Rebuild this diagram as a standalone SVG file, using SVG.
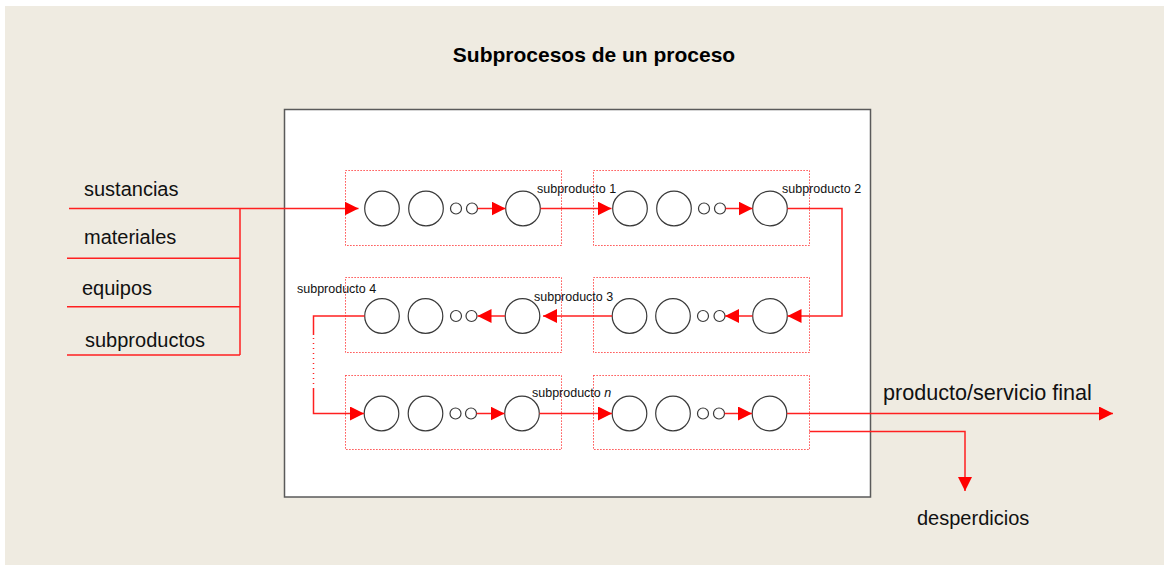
<svg xmlns="http://www.w3.org/2000/svg" width="1164" height="565" viewBox="0 0 1164 565">
<style>
.bg{fill:#EFEBE1}
.frame{fill:#FFFFFF;stroke:#5a5a5a;stroke-width:1.5}
.grp{fill:none;stroke:#FF2020;stroke-width:1;stroke-dasharray:1.2 1.8}
.c{fill:#FFFFFF;stroke:#3a3a3a;stroke-width:1.2}
.ln{fill:none;stroke:#FF2020;stroke-width:1.5}
.dot{fill:none;stroke:#FF2020;stroke-width:1.5;stroke-dasharray:1 4}
.lbl{font-family:"Liberation Sans",Arial,sans-serif;font-size:20px;fill:#111}
.sm{font-family:"Liberation Sans",Arial,sans-serif;font-size:12.5px;fill:#111}
.title{font-family:"Liberation Sans",Arial,sans-serif;font-size:21px;font-weight:bold;fill:#000}
</style>
<defs>
<marker id="ah" markerUnits="userSpaceOnUse" markerWidth="14" markerHeight="14" refX="14" refY="7" orient="auto">
<path d="M0,0 L14,7 L0,14 Z" fill="#FF0000"/>
</marker>
</defs>
<rect x="0" y="0" width="1164" height="565" fill="#FFFFFF"/>
<rect class="bg" x="5" y="6" width="1159" height="559"/>
<text class="title" x="594" y="62" text-anchor="middle">Subprocesos de un proceso</text>
<rect id="proceso" class="frame" x="284.5" y="109.5" width="586" height="387.5"/>

<g id="inputs">
<text class="lbl" x="84" y="196">sustancias</text>
<text class="lbl" x="84" y="244">materiales</text>
<text class="lbl" x="82" y="295">equipos</text>
<text class="lbl" x="85" y="347">subproductos</text>
</g>

<g id="sub1">
<rect class="grp" x="345.5" y="170.5" width="216" height="75"/>
<circle class="c" cx="382" cy="208.5" r="17.3"/>
<circle class="c" cx="426" cy="208.5" r="17.3"/>
<circle class="c" cx="456" cy="208.5" r="5.5"/>
<circle class="c" cx="472" cy="208.5" r="5.5"/>
<circle class="c" cx="523" cy="208.5" r="17.3"/>
</g>
<g id="sub2">
<rect class="grp" x="593.5" y="170.5" width="216" height="75"/>
<circle class="c" cx="630" cy="208.5" r="17.3"/>
<circle class="c" cx="674" cy="208.5" r="17.3"/>
<circle class="c" cx="704" cy="208.5" r="5.5"/>
<circle class="c" cx="720" cy="208.5" r="5.5"/>
<circle class="c" cx="770" cy="208.5" r="17.3"/>
</g>
<g id="sub3">
<rect class="grp" x="345.5" y="277.5" width="216" height="75"/>
<circle class="c" cx="382" cy="316" r="17.3"/>
<circle class="c" cx="425.5" cy="316" r="17.3"/>
<circle class="c" cx="456" cy="316" r="5.5"/>
<circle class="c" cx="471.5" cy="316" r="5.5"/>
<circle class="c" cx="522.5" cy="316" r="17.3"/>
</g>
<g id="sub4">
<rect class="grp" x="593.5" y="277.5" width="216" height="75"/>
<circle class="c" cx="629.5" cy="316" r="17.3"/>
<circle class="c" cx="673" cy="316" r="17.3"/>
<circle class="c" cx="703" cy="316" r="5.5"/>
<circle class="c" cx="719.5" cy="316" r="5.5"/>
<circle class="c" cx="770" cy="316" r="17.3"/>
</g>
<g id="sub5">
<rect class="grp" x="345.5" y="375.5" width="216" height="74"/>
<circle class="c" cx="381.5" cy="413.5" r="17.3"/>
<circle class="c" cx="425.5" cy="413.5" r="17.3"/>
<circle class="c" cx="455.5" cy="413.5" r="5.5"/>
<circle class="c" cx="471" cy="413.5" r="5.5"/>
<circle class="c" cx="522" cy="413.5" r="17.3"/>
</g>
<g id="sub6">
<rect class="grp" x="593.5" y="375.5" width="216" height="74"/>
<circle class="c" cx="629.5" cy="413.5" r="17.3"/>
<circle class="c" cx="673" cy="413.5" r="17.3"/>
<circle class="c" cx="703" cy="413.5" r="5.5"/>
<circle class="c" cx="719" cy="413.5" r="5.5"/>
<circle class="c" cx="769.5" cy="413.5" r="17.3"/>
</g>

<g id="labels">
<text class="sm" x="537" y="193">subproducto 1</text>
<text class="sm" x="782" y="193">subproducto 2</text>
<text class="sm" x="534" y="301">subproducto 3</text>
<text class="sm" x="297" y="293">subproducto 4</text>
<text class="sm" x="532" y="397">subproducto <tspan font-style="italic">n</tspan></text>
<text class="lbl" x="883" y="400" style="font-size:21.6px">producto/servicio final</text>
<text class="lbl" x="917" y="525">desperdicios</text>
</g>

<g id="connectors">
<path class="ln" d="M69,208.5 H358.5" marker-end="url(#ah)"/>
<path class="ln" d="M67,258.3 H240 M67,306.7 H240 M67,355 H240 M240,208.5 V355"/>
<path class="ln" d="M477.5,208.5 H505.5" marker-end="url(#ah)"/>
<path class="ln" d="M540.5,208.5 H611.5" marker-end="url(#ah)"/>
<path class="ln" d="M725.5,208.5 H752.5" marker-end="url(#ah)"/>
<path class="ln" d="M787.5,208.5 H842 V316 H787.5" marker-end="url(#ah)"/>
<path class="ln" d="M752.5,316 H725" marker-end="url(#ah)"/>
<path class="ln" d="M612,316 H543" marker-end="url(#ah)"/>
<path class="ln" d="M505,316 H477.5" marker-end="url(#ah)"/>
<path class="ln" d="M364.5,316 H313.5 V335"/>
<path class="dot" d="M313.5,338 V386"/>
<path class="ln" d="M313.5,388 V413.5 H364" marker-end="url(#ah)"/>
<path class="ln" d="M476.5,413.5 H504.5" marker-end="url(#ah)"/>
<path class="ln" d="M539.5,413.5 H612" marker-end="url(#ah)"/>
<path class="ln" d="M724.5,413.5 H752" marker-end="url(#ah)"/>
<path class="ln" d="M787,413.5 H1113" marker-end="url(#ah)"/>
<path class="ln" d="M809.5,431.5 H965 V491" marker-end="url(#ah)"/>
</g>
</svg>
